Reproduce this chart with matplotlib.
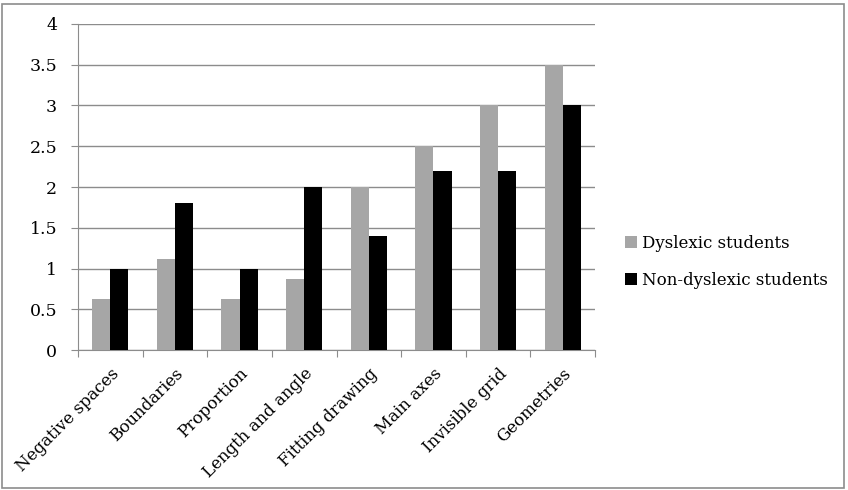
import matplotlib.pyplot as plt
import numpy as np
from matplotlib.patches import Rectangle

categories = ['Negative spaces', 'Boundaries', 'Proportion', 'Length and angle',
              'Fitting drawing', 'Main axes', 'Invisible grid', 'Geometries']
dyslexic = [0.62, 1.12, 0.62, 0.87, 2.0, 2.5, 3.0, 3.5]
non_dyslexic = [1.0, 1.8, 1.0, 2.0, 1.4, 2.2, 2.2, 3.0]
y_ticks = [0, 0.5, 1, 1.5, 2, 2.5, 3, 3.5, 4]
y_labels = ['0', '0.5', '1', '1.5', '2', '2.5', '3', '3.5', '4']

plt.rcParams['font.family'] = 'DejaVu Serif'
grey = '#a6a6a6'
line_col = '#8c8c8c'

fig = plt.figure(figsize=(8.48, 4.90), dpi=100)
W, H = 848, 490
ax = fig.add_axes([78 / W, 1 - 350 / H, (595 - 78) / W, (350 - 24) / H])

x = np.arange(len(categories))
w = 0.28
ax.bar(x - w / 2, dyslexic, w, color=grey, label='Dyslexic students', zorder=3)
ax.bar(x + w / 2, non_dyslexic, w, color='black', label='Non-dyslexic students', zorder=3)

ax.set_xlim(-0.5, len(categories) - 0.5)
ax.set_ylim(0, 4)
ax.set_yticks(y_ticks)
ax.set_yticklabels(y_labels, fontsize=12.5)
ax.yaxis.grid(True, color=line_col, linewidth=1.0, zorder=0)
ax.set_axisbelow(True)

ax.set_xticks(np.arange(len(categories) + 1) - 0.5)
ax.set_xticklabels([])
ax.set_xticks(x, minor=True)
ax.set_xticklabels(categories, minor=True, rotation=45, ha='right',
                   rotation_mode='anchor', fontsize=12)
ax.tick_params(axis='x', which='minor', length=0, pad=11)
ax.tick_params(axis='x', which='major', length=5, color=line_col)
ax.tick_params(axis='y', length=5, color=line_col, pad=10)

for s in ['top', 'right']:
    ax.spines[s].set_visible(False)
ax.spines['left'].set_color(line_col)
ax.spines['bottom'].set_color(line_col)

fig.legend(loc='center left', bbox_to_anchor=(610 / W, 1 - 262 / H), frameon=False,
           fontsize=12, handlelength=0.7, handleheight=0.7, handletextpad=0.3,
           labelspacing=1.2)

fig.patches.append(Rectangle((2 / W, 2 / H), (W - 6) / W, (H - 6) / H,
                             transform=fig.transFigure, fill=False,
                             edgecolor='#8c8c8c', linewidth=1.2))

fig.savefig('out.png', dpi=100)
